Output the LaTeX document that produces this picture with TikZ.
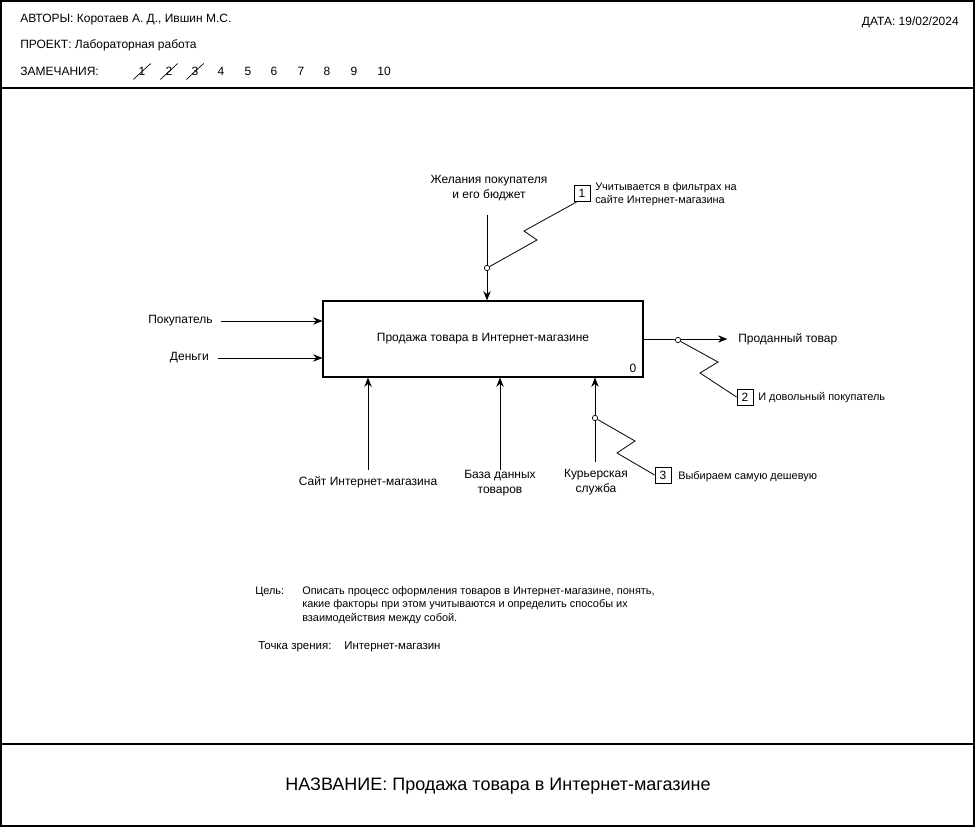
\documentclass[tikz,border=0pt]{standalone}
\usepackage{fontspec}
\setmainfont{Liberation Sans}
\usetikzlibrary{arrows.meta,calc,positioning}

\begin{document}
\begin{tikzpicture}[x=0.75pt,y=-0.75pt]
    \tikzset{lbl/.style = {font=\fontsize{9}{11.25}\selectfont, inner sep=0pt, align=center},
      note/.style = {font=\fontsize{8.2}{10}\selectfont, inner sep=0pt, align=left, anchor=west},
      arr/.style = {-{Stealth[length=7pt,width=5.5pt]}, line width=0.7pt},
      dot/.style = {circle, draw, fill=white, inner sep=0pt, minimum size=4pt, line width=0.5pt},
      numbox/.style = {draw, minimum size=12pt, inner sep=0pt, line width=0.7pt,
        font=\fontsize{9}{11}\selectfont},
      zig/.style = {line width=0.6pt}}
    \useasboundingbox (0,0) rectangle (980,830);
    % frame
    \draw[line width=0.8pt] (1,1) rectangle (974,826);
    \draw[line width=0.8pt] (1,88) -- (974,88);
    \draw[line width=0.8pt] (1,744) -- (974,744);
    % header
    \node[lbl, anchor=west] (authors) at (20,20) {АВТОРЫ: Коротаев А. Д., Ившин М.С.};
    \node[lbl, anchor=west] (project) at (20,45) {ПРОЕКТ: Лабораторная работа};
    \node[lbl, anchor=west] (remarks) at (20,71) {ЗАМЕЧАНИЯ:};
    \node[lbl, anchor=east] (date) at (959,22) {ДАТА: 19/02/2024};
    \foreach \i/\x in {1/142,2/169,3/195,4/221,5/248,6/274,7/301,8/327,9/354,10/384}
      \node[lbl] (r\i) at (\x,71) {\i};
    \foreach \i in {1,2,3}
      \draw[line width=0.5pt] ($(r\i.south west)+(-5,4)$) -- ($(r\i.north east)+(5,-3)$);
    % activity
    \node[draw, line width=0.8pt, minimum width=240pt, minimum height=57pt, lbl] (proc) at (483,339)
      {Продажа товара в Интернет-магазине};
    \node[lbl, anchor=south east] (num) at ($(proc.south east)+(-7,-5)$) {0};
    % inputs
    \node[lbl, anchor=east] (buyer) at (213,321) {Покупатель};
    \node[lbl, anchor=east] (money) at (209,358) {Деньги};
    \coordinate[right=6pt of buyer.east] (buyerIn);
    \coordinate[right=7pt of money.east] (moneyIn);
    \draw[arr] (buyerIn) -- (proc.west |- buyerIn);
    \draw[arr] (moneyIn) -- (proc.west |- moneyIn);
    % control
    \node[lbl] (wish) at (489,188) {Желания покупателя\\и его бюджет};
    \coordinate (wishIn) at (487,215);
    \draw[arr] (wishIn) -- (proc.north -| wishIn);
    % output
    \node[lbl, anchor=west] (sold) at (738,339) {Проданный товар};
    \coordinate[left=8pt of sold.west] (soldOut);
    \draw[arr] (proc.east |- soldOut) -- (soldOut);
    % mechanisms
    \node[lbl] (site) at (368,482) {Сайт Интернет-магазина};
    \node[lbl] (base) at (500,483) {База данных\\товаров};
    \node[lbl] (post) at (596,482) {Курьерская\\служба};
    \coordinate (siteIn) at (368,470);
    \coordinate (baseIn) at (500,470);
    \coordinate (postIn) at (595,462);
    \draw[arr] (siteIn) -- (proc.south -| siteIn);
    \draw[arr] (baseIn) -- (proc.south -| baseIn);
    \draw[arr] (postIn) -- (proc.south -| postIn);
    % callouts
    \node[numbox] (n1) at (582,193) {1};
    \node[note] (t1) at (595,194) {Учитывается в фильтрах на\\сайте Интернет-магазина};
    \node[dot] (c1) at (487,268) {};
    \draw[zig] (c1) -- (537,240) -- (524,231) -- ($(n1.south west)+(4,0)$);
    \node[numbox] (n2) at (745,397) {2};
    \node[note] (t2) at (758,398) {И довольный покупатель};
    \node[dot] (c2) at (678,340) {};
    \draw[zig] (c2) -- (718,362) -- (700,373) -- (n2.west);
    \node[numbox] (n3) at (663,475) {3};
    \node[note] (t3) at (678,477) {Выбираем самую дешевую};
    \node[dot] (c3) at (595,418) {};
    \draw[zig] (c3) -- (635,441) -- (617,453) -- (n3.west);
    % purpose and viewpoint
    \node[note] (goalKey) at (255,592) {Цель:};
    \node[note, anchor=north west, font=\fontsize{8.2}{10.1}\selectfont] (goal) at (302,586)
      {Описать процесс оформления товаров в Интернет-магазине, понять,\\
       какие факторы при этом учитываются и определить способы их\\
       взаимодействия между собой.};
    \node[note, font=\fontsize{8.6}{10}\selectfont] (viewKey) at (258,647) {Точка зрения:};
    \node[note, font=\fontsize{8.6}{10}\selectfont] (view) at (344,647) {Интернет-магазин};
    % title
    \node[lbl, font=\fontsize{13.5}{16}\selectfont] (title) at (498,786)
      {НАЗВАНИЕ: Продажа товара в Интернет-магазине};
\end{tikzpicture}
\end{document}
